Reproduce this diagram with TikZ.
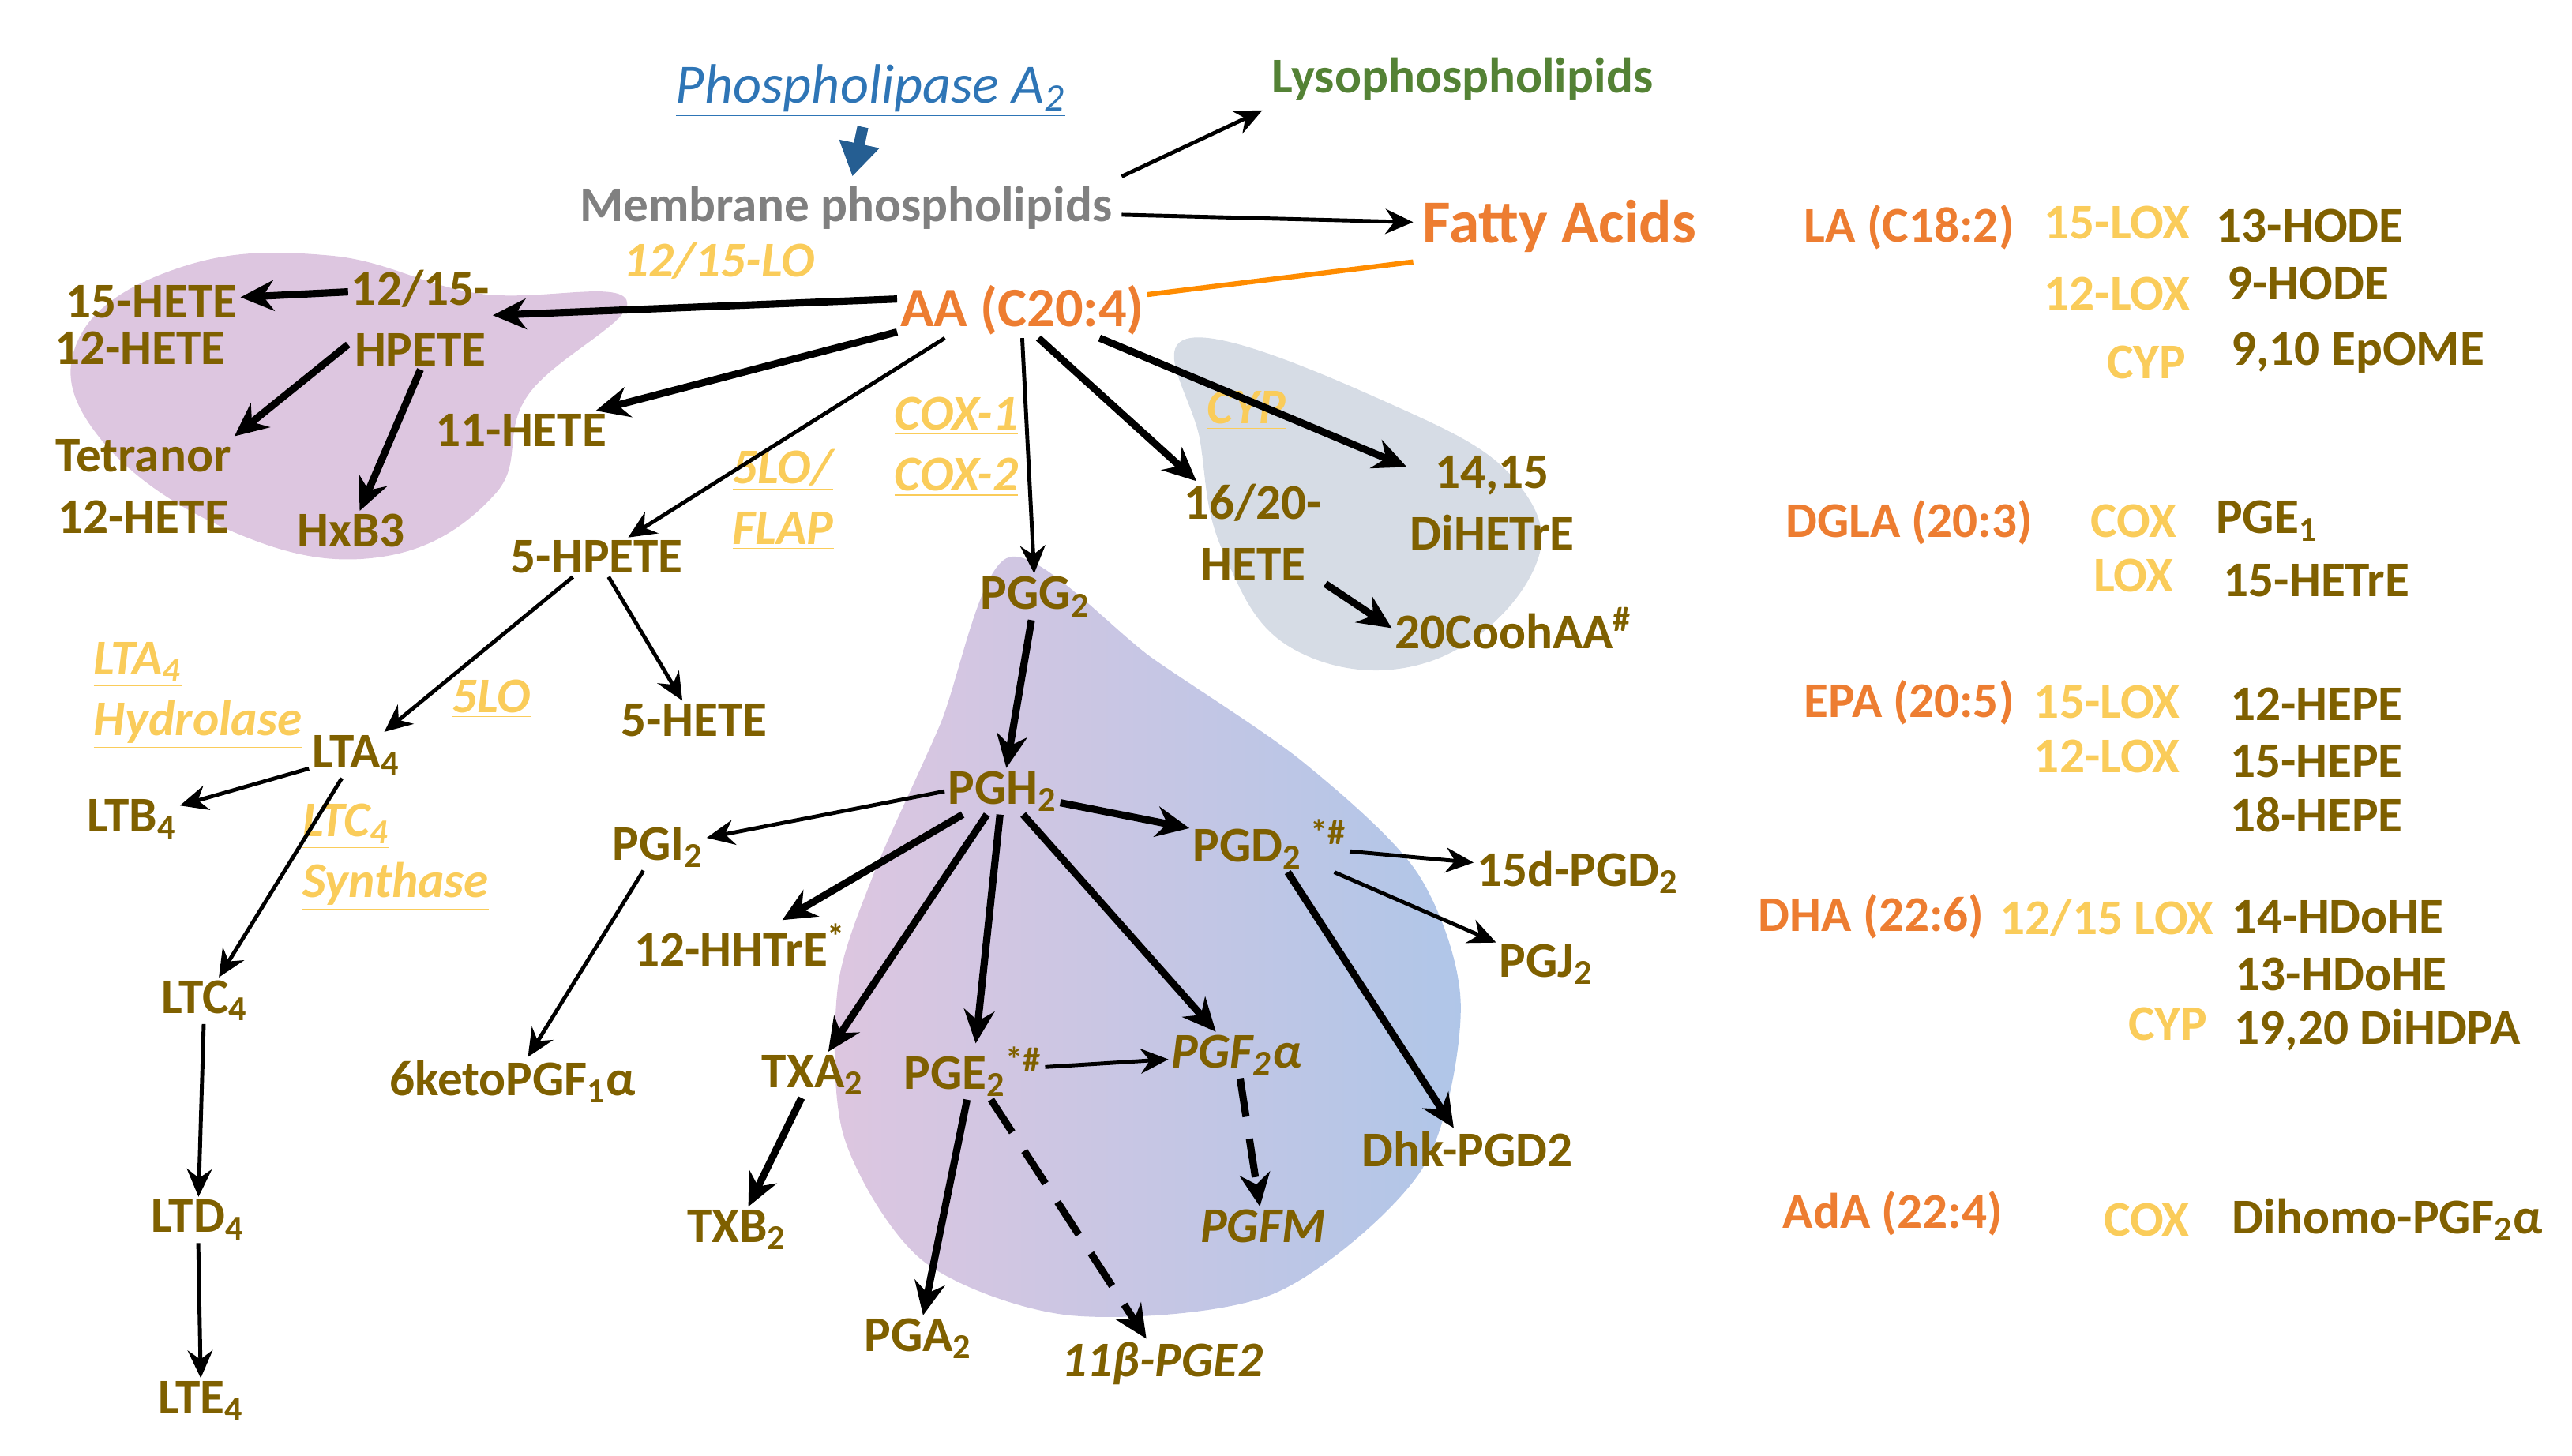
\documentclass[tikz,border=0pt]{standalone}
\usepackage{fontspec}
\setmainfont{Carlito}
\usepackage{xcolor}
\usetikzlibrary{positioning,arrows.meta}
\definecolor{colormeta}   {RGB}{127,96,0}
\definecolor{colororange} {RGB}{237,125,49}
\definecolor{colorgreen}  {RGB}{84,130,53}
\definecolor{colorgray}   {RGB}{128,128,128}
\definecolor{colorblue}   {RGB}{46,117,182}
\definecolor{colorenzyme} {RGB}{250,204,90}
\definecolor{colorblob}   {RGB}{221,198,224}
\definecolor{colormidblob}{RGB}{218,224,240}
\definecolor{colorgrayblob}{RGB}{214,220,229}
\definecolor{colorblueblob}{RGB}{176,198,232}

\begin{document}
\begin{tikzpicture}[
    x=0.02088cm, y=-0.02088cm,
    font={\fontsize{18}{20}\selectfont\bfseries},
    base/.style={text=colormeta,inner sep=1pt,align=center},
    src/.style={text=colororange,inner sep=1pt,align=center},
    enz/.style={text=colorenzyme,inner sep=1pt,align=left,font={\fontsize{18}{22}\selectfont\bfseries\itshape}},
    tab/.style={text=colorenzyme,inner sep=1pt},
    arr/.style={-{Stealth[length=10pt,width=9pt]},line width=1.4pt},
    bold/.style={-{Stealth[length=12pt,width=11pt]},line width=2.6pt},
    dashed arr/.style={bold,dash pattern=on 14pt off 8pt},
]
    \useasboundingbox (0,0) rectangle (1560,883);

    % background blobs
    \fill[colorblob] plot[smooth cycle,tension=0.7] coordinates {(380,182) (320,240) (300,300) (230,338) (140,322) (60,265) (48,205) (110,162) (200,155) (290,178)};
    \fill[colorgrayblob] plot[smooth cycle,tension=0.7] coordinates {(722,205) (850,248) (922,295) (928,350) (865,402) (785,394) (742,335) (728,268)};
    \shade[left color=colorblob,middle color=colormidblob,right color=colorblueblob] plot[smooth cycle,tension=0.5] coordinates {(612,338) (700,400) (790,462) (860,530) (886,610) (862,710) (772,785) (650,798) (560,765) (512,690) (508,600) (530,530) (570,440)};

    % top
    \node[text=colorblue,font={\fontsize{20}{22}\selectfont\itshape}] at (528,55) (pla) {\underline{Phospholipase A\textsubscript{2}}};
    \node[text=colorgreen] at (887,48) (lyso) {Lysophospholipids};
    \node[text=colorgray] at (513,126) (membrane) {Membrane phospholipids};
    \node[text=colororange,font={\fontsize{22}{24}\selectfont\bfseries}] at (946,137) (fatty) {Fatty Acids};
    \node[src,font={\fontsize{20}{22}\selectfont\bfseries}] at (620,188) (aa) {AA (C20:4)};

    % lipoxygenase side
    \node[base] at (92,183) (hete15) {15-HETE};
    \node[base] at (85,211) (hete12) {12-HETE};
    \node[base] at (255,193) (hpete) {12/15-\\[2pt]HPETE};
    \node[base] at (87,295) (tetranor) {Tetranor\\[2pt]12-HETE};
    \node[base] at (213,322) (hxb3) {HxB3};
    \node[base] at (316,261) (hete11) {11-HETE};
    \node[base] at (362,338) (hpete5) {5-HPETE};
    \node[base] at (421,437) (hete5) {5-HETE};
    \node[base] at (216,458) (lta4) {LTA\textsubscript{4}};
    \node[base] at (80,497) (ltb4) {LTB\textsubscript{4}};
    \node[base] at (124,607) (ltc4) {LTC\textsubscript{4}};
    \node[base] at (120,740) (ltd4) {LTD\textsubscript{4}};
    \node[base] at (122,850) (lte4) {LTE\textsubscript{4}};

    % cytochrome side
    \node[base] at (760,323) (hete1620) {16/20-\\[2pt]HETE};
    \node[base] at (905,305) (dihetre) {14,15\\[2pt]DiHETrE};
    \node[base] at (918,381) (cooh) {20CoohAA\textsuperscript{\#}};

    % cyclooxygenase side
    \node[base] at (628,362) (pgg2) {PGG\textsubscript{2}};
    \node[base] at (608,480) (pgh2) {PGH\textsubscript{2}};
    \node[base] at (399,514) (pgi2) {PGI\textsubscript{2}};
    \node[base] at (449,573) (hhtre) {12-HHTrE\textsuperscript{*}};
    \node[base] at (770,512) (pgd2) {PGD\textsubscript{2}\,\textsuperscript{*\#}};
    \node[base] at (957,529) (pgd15) {15d-PGD\textsubscript{2}};
    \node[base] at (938,585) (pgj2) {PGJ\textsubscript{2}};
    \node[base] at (311,656) (keto) {6ketoPGF\textsubscript{1}α};
    \node[base] at (493,652) (txa2) {TXA\textsubscript{2}};
    \node[base] at (590,650) (pge2) {PGE\textsubscript{2}\textsuperscript{*\#}};
    \node[base,font={\fontsize{18}{20}\selectfont\bfseries\itshape}] at (750,640) (pgf2a) {PGF\textsubscript{2}α};
    \node[base] at (890,697) (dhk) {Dhk-PGD2};
    \node[base] at (447,746) (txb2) {TXB\textsubscript{2}};
    \node[base,font={\fontsize{18}{20}\selectfont\bfseries\itshape}] at (766,744) (pgfm) {PGFM};
    \node[base] at (557,812) (pga2) {PGA\textsubscript{2}};
    \node[base,font={\fontsize{18}{20}\selectfont\bfseries\itshape}] at (705,827) (pge11) {11β-PGE2};

    % enzymes
    \node[enz] at (436,160) (lo1215) {\underline{12/15-LO}};
    \node[enz] at (475,303) (flap) {\underline{5LO/}\\\underline{FLAP}};
    \node[enz] at (580,271) (cox) {\underline{COX-1}\\\underline{COX-2}};
    \node[enz] at (756,249) (cyp) {\underline{CYP}};
    \node[enz] at (120,422) (hydrolase) {\underline{LTA\textsubscript{4}}\\\underline{Hydrolase}};
    \node[enz] at (298,424) (lo5) {\underline{5LO}};
    \node[enz] at (240,520) (synthase) {\underline{LTC\textsubscript{4}}\\\underline{Synthase}};

    % other fatty acids
    \node[src] at (1158,138) (la) {LA (C18:2)};
    \node[tab] at (1284,135) (la1) {15-LOX};
    \node[base] at (1401,137) (la1p) {13-HODE};
    \node[tab] at (1284,178) (la2) {12-LOX};
    \node[base] at (1400,172) (la2p) {9-HODE};
    \node[tab] at (1302,220) (la3) {CYP};
    \node[base] at (1430,214) (la3p) {9,10 EpOME};

    \node[src] at (1158,317) (dgla) {DGLA (20:3)};
    \node[tab] at (1294,316) (dgla1) {COX};
    \node[base] at (1375,316) (dgla1p) {PGE\textsubscript{1}};
    \node[tab] at (1294,349) (dgla2) {LOX};
    \node[base] at (1405,352) (dgla2p) {15-HETrE};

    \node[src] at (1158,426) (epa) {EPA (20:5)};
    \node[tab] at (1278,426) (epa1) {15-LOX};
    \node[base] at (1405,427) (epa1p) {12-HEPE};
    \node[tab] at (1278,459) (epa2) {12-LOX};
    \node[base] at (1405,462) (epa2p) {15-HEPE};
    \node[base] at (1405,494) (epa3p) {18-HEPE};

    \node[src] at (1135,556) (dha) {DHA (22:6)};
    \node[tab] at (1278,557) (dha1) {12/15 LOX};
    \node[base] at (1418,556) (dha1p) {14-HDoHE};
    \node[base] at (1420,591) (dha2p) {13-HDoHE};
    \node[tab] at (1315,621) (dha3) {CYP};
    \node[base] at (1442,625) (dha3p) {19,20 DiHDPA};

    \node[src] at (1148,736) (ada) {AdA (22:4)};
    \node[tab] at (1302,740) (ada1) {COX};
    \node[base] at (1448,740) (ada1p) {Dihomo-PGF\textsubscript{2}α};

    % connectors
    \draw[-{Triangle[length=12pt,width=14pt]},line width=4pt,colorblue!80!black] (pla) -- (membrane);
    \draw[arr] (membrane.north east) -- (lyso.south west);
    \draw[arr] (membrane) -- (fatty);
    \draw[line width=1.8pt,orange!90!yellow] (aa) -- (fatty.south west);

    \draw[bold] (aa.175) -- (hpete);
    \draw[bold] (aa.190) -- (hete11);
    \draw[arr] (aa.200) -- (hpete5);
    \draw[arr] (aa.south) -- (pgg2);
    \draw[bold] (aa.300) -- (hete1620);
    \draw[bold] (aa.340) -- (dihetre);
    \draw[bold] (hete1620.south east) -- (cooh.west);

    \draw[bold] (hpete.160) -- (hete15);
    \draw[bold] (hpete.200) -- (tetranor.north east);
    \draw[bold] (hpete.south) -- (hxb3);
    \draw[arr] (hpete5) -- (lta4);
    \draw[arr] (hpete5) -- (hete5);
    \draw[arr] (lta4) -- (ltb4);
    \draw[arr] (lta4) -- (ltc4);
    \draw[arr] (ltc4) -- (ltd4);
    \draw[arr] (ltd4) -- (lte4);

    \draw[bold] (pgg2) -- (pgh2);
    \draw[arr] (pgh2.west) -- (pgi2);
    \draw[bold] (pgh2) -- (hhtre);
    \draw[bold] (pgh2) -- (txa2);
    \draw[bold] (pgh2) -- (pge2);
    \draw[bold] (pgh2) -- (pgf2a);
    \draw[bold] (pgh2) -- (pgd2);
    \draw[arr] (pgd2) -- (pgd15);
    \draw[arr] (pgd2) -- (pgj2);
    \draw[bold] (pgd2) -- (dhk);
    \draw[arr] (pgi2) -- (keto);
    \draw[bold] (txa2) -- (txb2);
    \draw[arr] (pge2) -- (pgf2a);
    \draw[bold] (pge2) -- (pga2);
    \draw[dashed arr] (pge2) -- (pge11);
    \draw[dashed arr] (pgf2a) -- (pgfm);

\end{tikzpicture}
\end{document}
